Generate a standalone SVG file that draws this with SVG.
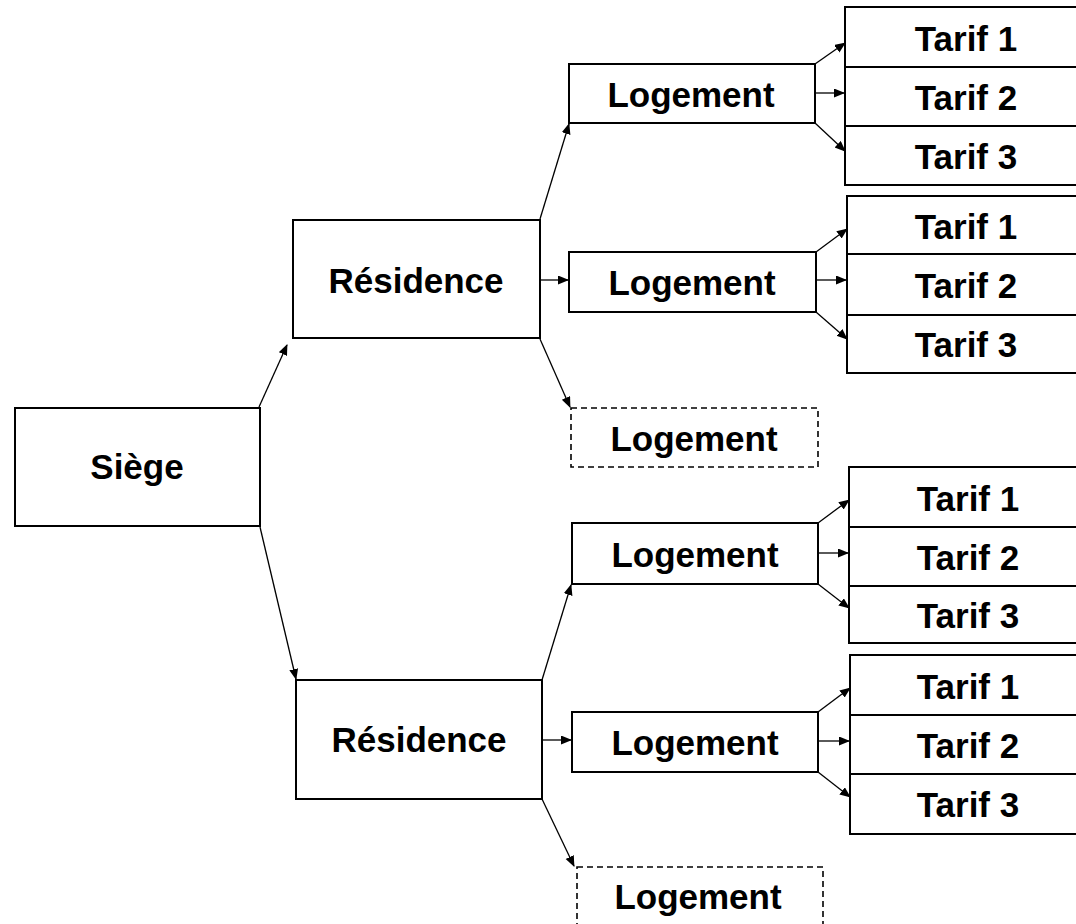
<svg xmlns="http://www.w3.org/2000/svg" width="1076" height="924" viewBox="0 0 1076 924">
<defs>
<style>
.box{fill:#fff;stroke:#000;stroke-width:2}
.dash{fill:#fff;stroke:#000;stroke-width:1.6;stroke-dasharray:6 4}
.lbl{font-family:"Liberation Sans",Arial,sans-serif;font-weight:bold;font-size:35px;fill:#000;text-anchor:middle}
.edge{fill:none;stroke:#000;stroke-width:1.3;marker-end:url(#ah)}
</style>
<marker id="ah" markerUnits="userSpaceOnUse" markerWidth="12" markerHeight="10" refX="10" refY="4.5" orient="auto">
<path d="M0,0 L11,4.5 L0,9 Z" fill="#000"/>
</marker>
</defs>
<rect width="1076" height="924" fill="#fff"/>

<g id="siege"><rect class="box" x="15" y="408" width="245" height="118"/><text class="lbl" x="137" y="479">Siège</text></g>

<g id="residence1"><rect class="box" x="293" y="220" width="247" height="118"/><text class="lbl" x="416" y="293">Résidence</text></g>
<g id="residence2"><rect class="box" x="296" y="680" width="246" height="119"/><text class="lbl" x="419" y="752">Résidence</text></g>

<g id="logement1"><rect class="box" x="569" y="64" width="246" height="59"/><text class="lbl" x="691" y="107">Logement</text></g>
<g id="logement2"><rect class="box" x="569" y="252" width="247" height="60"/><text class="lbl" x="692" y="295">Logement</text></g>
<g id="logement3"><rect class="dash" x="571" y="408" width="247" height="59"/><text class="lbl" x="694" y="451">Logement</text></g>
<g id="logement4"><rect class="box" x="572" y="523" width="246" height="61"/><text class="lbl" x="695" y="567">Logement</text></g>
<g id="logement5"><rect class="box" x="572" y="712" width="246" height="60"/><text class="lbl" x="695" y="755">Logement</text></g>
<g id="logement6"><rect class="dash" x="577" y="867" width="246" height="70"/><text class="lbl" x="698" y="909">Logement</text></g>

<g id="tarifs1">
<rect class="box" x="845" y="7" width="245" height="60"/><text class="lbl" x="966" y="51">Tarif 1</text>
<rect class="box" x="845" y="67" width="245" height="59"/><text class="lbl" x="966" y="110">Tarif 2</text>
<rect class="box" x="845" y="126" width="245" height="59"/><text class="lbl" x="966" y="169">Tarif 3</text>
</g>
<g id="tarifs2">
<rect class="box" x="847" y="196" width="245" height="58"/><text class="lbl" x="966" y="239">Tarif 1</text>
<rect class="box" x="847" y="254" width="245" height="61"/><text class="lbl" x="966" y="298">Tarif 2</text>
<rect class="box" x="847" y="315" width="245" height="58"/><text class="lbl" x="966" y="357">Tarif 3</text>
</g>
<g id="tarifs3">
<rect class="box" x="849" y="467" width="245" height="60"/><text class="lbl" x="968" y="511">Tarif 1</text>
<rect class="box" x="849" y="527" width="245" height="59"/><text class="lbl" x="968" y="570">Tarif 2</text>
<rect class="box" x="849" y="586" width="245" height="57"/><text class="lbl" x="968" y="628">Tarif 3</text>
</g>
<g id="tarifs4">
<rect class="box" x="850" y="655" width="245" height="60"/><text class="lbl" x="968" y="699">Tarif 1</text>
<rect class="box" x="850" y="715" width="245" height="59"/><text class="lbl" x="968" y="758">Tarif 2</text>
<rect class="box" x="850" y="774" width="245" height="60"/><text class="lbl" x="968" y="817">Tarif 3</text>
</g>

<g id="connectors">
<line class="edge" x1="259" y1="407" x2="287" y2="345"/>
<line class="edge" x1="260" y1="527" x2="296" y2="679"/>

<line class="edge" x1="540" y1="219" x2="569" y2="124"/>
<line class="edge" x1="540" y1="280" x2="568" y2="280"/>
<line class="edge" x1="540" y1="339" x2="570" y2="407"/>

<line class="edge" x1="542" y1="680" x2="571" y2="585"/>
<line class="edge" x1="542" y1="740" x2="571" y2="740"/>
<line class="edge" x1="542" y1="799" x2="574" y2="866"/>

<line class="edge" x1="815" y1="64" x2="845" y2="43"/>
<line class="edge" x1="815" y1="93" x2="844" y2="93"/>
<line class="edge" x1="815" y1="123" x2="845" y2="151"/>

<line class="edge" x1="816" y1="252" x2="847" y2="229"/>
<line class="edge" x1="816" y1="280" x2="846" y2="280"/>
<line class="edge" x1="816" y1="312" x2="847" y2="339"/>

<line class="edge" x1="818" y1="523" x2="849" y2="500"/>
<line class="edge" x1="818" y1="553" x2="848" y2="553"/>
<line class="edge" x1="818" y1="584" x2="849" y2="608"/>

<line class="edge" x1="818" y1="712" x2="850" y2="688"/>
<line class="edge" x1="818" y1="741" x2="849" y2="741"/>
<line class="edge" x1="818" y1="772" x2="850" y2="797"/>
</g>
</svg>
